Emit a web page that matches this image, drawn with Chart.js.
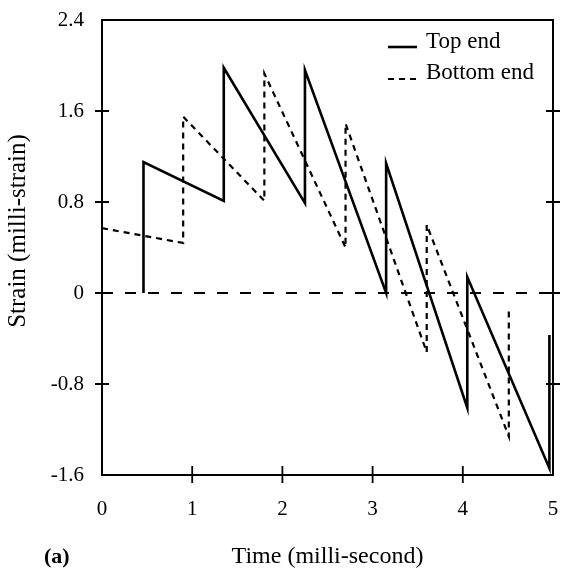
<!DOCTYPE html>
<html>
<head>
<meta charset="utf-8">
<script src="https://cdn.jsdelivr.net/npm/chart.js@4"></script>
<style>
  html, body { margin: 0; padding: 0; background: #fff; }
  #wrap { width: 562px; height: 581px; position: relative; }
</style>
</head>
<body>
<div id="wrap"><canvas id="strain-chart"></canvas></div>
<script>
// values (time in ms, strain in milli-strain)
const topTime = [0.46, 0.46, 1.35, 1.35, 2.25, 2.25, 3.15, 3.15, 4.05, 4.05, 4.96, 4.96];
const topStrain = [0, 1.15, 0.81, 1.98, 0.79, 1.96, 0, 1.14, -1.01, 0.14, -1.54, -0.37];

const bottomTime = [0, 0.90, 0.90, 1.80, 1.80, 2.70, 2.70, 3.60, 3.60, 4.51, 4.51];
const bottomStrain = [0.57, 0.44, 1.55, 0.81, 1.93, 0.40, 1.49, -0.52, 0.60, -1.26, -0.16];

const zeroTime = [0, 5];
const zeroStrain = [0, 0];

const xTicks = [0, 1, 2, 3, 4, 5];
const yTicks = [-1.6, -0.8, 0, 0.8, 1.6, 2.4];
const seriesNames = ['Top end', 'Bottom end'];

function toPoints(xs, ys) {
    return xs.map((x, i) => ({ x: x, y: ys[i] }));
}

const serif = 'Liberation Serif, Times New Roman, serif';

// frame + ticks crossing the axes, legend, y title and panel label
const framePlugin = {
    id: 'frame',
    afterDraw(chart) {
        const ctx = chart.ctx;
        const a = chart.chartArea;
        const xs = chart.scales.x, ys = chart.scales.y;
        ctx.save();
        ctx.strokeStyle = '#000';
        ctx.lineWidth = 2;
        ctx.strokeRect(a.left, a.top, a.right - a.left, a.bottom - a.top);

        ctx.lineWidth = 1.8;
        ctx.beginPath();
        yTicks.slice(1, -1).forEach(v => {
            const py = ys.getPixelForValue(v);
            ctx.moveTo(a.left - 7, py); ctx.lineTo(a.left + 7, py);
            ctx.moveTo(a.right - 7, py); ctx.lineTo(a.right + 7, py);
        });
        xTicks.slice(1, -1).forEach(v => {
            const px = xs.getPixelForValue(v);
            ctx.moveTo(px, a.bottom - 9); ctx.lineTo(px, a.bottom + 8);
        });
        ctx.stroke();

        // legend
        const ds = chart.data.datasets;
        ctx.fillStyle = '#000';
        ctx.font = '23px ' + serif;
        ctx.textBaseline = 'middle';
        ctx.textAlign = 'left';
        [[47, 42], [79, 73]].forEach((pos, i) => {
            ctx.lineWidth = ds[i].borderWidth;
            ctx.setLineDash(ds[i].borderDash || []);
            ctx.beginPath();
            ctx.moveTo(388, pos[0]); ctx.lineTo(417, pos[0]);
            ctx.stroke();
            ctx.setLineDash([]);
            ctx.fillText(seriesNames[i], 426, pos[1]);
        });

        // y axis title
        ctx.save();
        ctx.translate(18, 231);
        ctx.rotate(-Math.PI / 2);
        ctx.textAlign = 'center';
        ctx.font = '25px ' + serif;
        ctx.fillText('Strain (milli-strain)', 0, 0);
        ctx.restore();

        // panel label
        ctx.font = 'bold 22px ' + serif;
        ctx.textAlign = 'left';
        ctx.fillText('(a)', 44, 557);
        ctx.restore();
    }
};

const ctx = document.getElementById('strain-chart').getContext('2d');
const strainChart = new Chart(ctx, {
    type: 'scatter',
    data: {
        datasets: [
            {
                label: seriesNames[0],
                data: toPoints(topTime, topStrain),
                showLine: true,
                borderColor: '#000',
                borderWidth: 2.6,
                pointRadius: 0,
                tension: 0
            },
            {
                label: seriesNames[1],
                data: toPoints(bottomTime, bottomStrain),
                showLine: true,
                borderColor: '#000',
                borderWidth: 2.2,
                borderDash: [6, 5],
                pointRadius: 0,
                tension: 0
            },
            {
                label: 'zero',
                data: toPoints(zeroTime, zeroStrain),
                showLine: true,
                borderColor: '#000',
                borderWidth: 2,
                borderDash: [11, 12],
                pointRadius: 0
            }
        ]
    },
    options: {
        responsive: true,
        maintainAspectRatio: false,
        animation: false,
        layout: { padding: { top: 20, right: 9, left: 0, bottom: 0 } },
        plugins: {
            legend: { display: false },
            tooltip: { enabled: false }
        },
        scales: {
            x: {
                type: 'linear',
                min: 0,
                max: 5,
                afterFit: s => {
                    s.height = 106;
                    s.paddingLeft = 0;
                    s.paddingRight = 0;
                },
                afterBuildTicks: s => { s.ticks = xTicks.map(v => ({ value: v })); },
                grid: { display: false, drawTicks: false },
                border: { display: false },
                ticks: {
                    padding: 22,
                    color: '#000',
                    font: { family: serif, size: 21 },
                    maxRotation: 0
                },
                title: {
                    display: true,
                    text: 'Time (milli-second)',
                    color: '#000',
                    font: { family: serif, size: 24 },
                    padding: { top: 0, bottom: 10 }
                }
            },
            y: {
                type: 'linear',
                min: -1.6,
                max: 2.4,
                afterFit: s => {
                    s.width = 102;
                    s.paddingTop = 0;
                    s.paddingBottom = 0;
                },
                afterBuildTicks: s => { s.ticks = yTicks.map(v => ({ value: v })); },
                grid: { display: false, drawTicks: false },
                border: { display: false },
                ticks: {
                    padding: 18,
                    color: '#000',
                    font: { family: serif, size: 21 },
                    callback: function (value) {
                        return value === 0 ? '0' : value.toFixed(1);
                    }
                }
            }
        }
    },
    plugins: [framePlugin]
});
</script>
</body>
</html>
